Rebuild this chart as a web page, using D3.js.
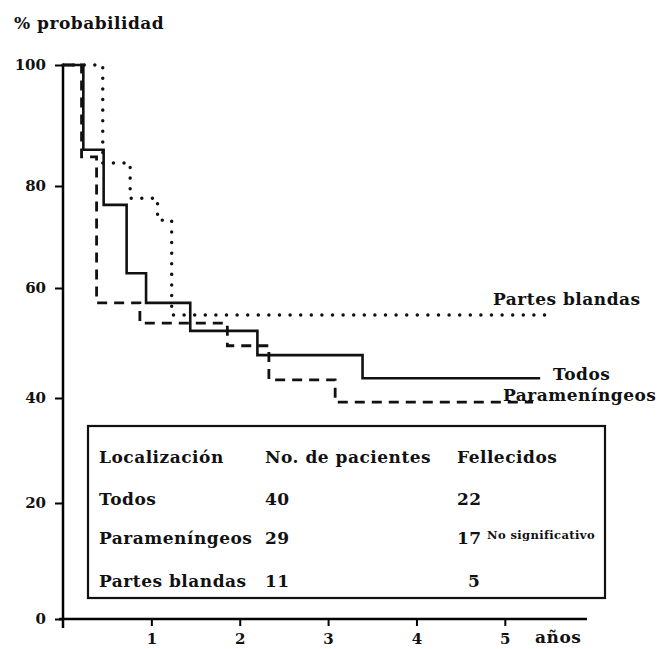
<!DOCTYPE html>
<html>
<head>
<meta charset="utf-8">
<script src="https://cdn.jsdelivr.net/npm/d3@7"></script>
<style>
  body { margin: 0; background: #fff; }
  svg text { font-family: "DejaVu Serif", serif; font-weight: bold; fill: #111; }
  .lbl { font-size: 17px; letter-spacing: 0.5px; }
</style>
</head>
<body>
<svg id="chart"></svg>
<script>
// Datos
const todosTiempo = [0, 0.23, 0.46, 0.72, 0.94, 1.44, 2.2, 3.39, 5.4];
const todosProb = [100, 86, 76.3, 62.9, 57.3, 52.2, 47.8, 43.6, 43.6];

const paraTiempo = [0, 0.21, 0.38, 0.87, 1.86, 2.33, 3.08, 5.32];
const paraProb = [100, 84.8, 57.3, 53.6, 49.5, 43.3, 39.2, 39.2];

const partesTiempo = [0, 0.45, 0.76, 1.07, 1.23, 5.51];
const partesProb = [100, 83.8, 77.6, 73.3, 55.1, 55.1];

const yTicks = [0, 20, 40, 60, 80, 100];
const xTicks = [1, 2, 3, 4, 5];

const localizaciones = ["Todos", "Parameníngeos", "Partes blandas"];
const pacientes = [40, 29, 11];
const fallecidos = [22, 17, 5];

const width = 660;
const height = 649;

const svg = d3.select("#chart")
    .attr("width", width)
    .attr("height", height);

// Escalas (el eje Y del original no es del todo regular)
const x = d3.scaleLinear()
    .domain([0, 5.93])
    .range([63, 587]);

const y = d3.scaleLinear()
    .domain(yTicks)
    .range([619, 503, 398, 288, 186, 65]);

// Eje Y
svg.append("g")
    .attr("transform", `translate(${x(0)},0)`)
    .call(d3.axisLeft(y).tickValues(yTicks).tickSize(8).tickSizeOuter(0).tickPadding(9))
    .call(g => g.select(".domain").attr("stroke-width", 2.5).attr("d", `M0,${y(100)}V${y(0) + 9}`))
    .call(g => g.selectAll(".tick line").attr("stroke-width", 2))
    .call(g => g.selectAll("text").style("font-size", "15px").attr("fill", "#111"));

// Eje X
svg.append("g")
    .attr("transform", `translate(0,${y(0)})`)
    .call(d3.axisBottom(x).tickValues(xTicks).tickFormat(d3.format("d")).tickSize(7).tickSizeOuter(0).tickPadding(7))
    .call(g => g.select(".domain").attr("stroke-width", 2.5).attr("d", `M${x(0) - 4},0H${x.range()[1]}`))
    .call(g => g.selectAll(".tick line").attr("stroke-width", 2))
    .call(g => g.selectAll("text").style("font-size", "15px").attr("fill", "#111"));

svg.append("text")
    .attr("class", "lbl")
    .attr("x", 535)
    .attr("y", 643)
    .text("años");

svg.append("text")
    .attr("class", "lbl")
    .attr("x", 14)
    .attr("y", 29)
    .text("% probabilidad");

// Curvas
const line = d3.line()
    .x(d => x(d[0]))
    .y(d => y(d[1]))
    .curve(d3.curveStepAfter);

const curvas = [
    { t: partesTiempo, p: partesProb, dash: "0.1,10.5", cap: "round", w: 3.4 },
    { t: paraTiempo, p: paraProb, dash: "10,7", cap: "butt", w: 2.8 },
    { t: todosTiempo, p: todosProb, dash: null, cap: "butt", w: 2.6 }
];

curvas.forEach(c => {
    svg.append("path")
        .datum(d3.zip(c.t, c.p))
        .attr("d", line)
        .attr("fill", "none")
        .attr("stroke", "#111")
        .attr("stroke-width", c.w)
        .attr("stroke-linecap", c.cap)
        .attr("stroke-dasharray", c.dash);
});

// Etiquetas de las curvas
svg.append("text").attr("class", "lbl").attr("x", 493).attr("y", 305).text("Partes blandas");
svg.append("text").attr("class", "lbl").attr("x", 553).attr("y", 380).text("Todos");
svg.append("text").attr("class", "lbl").attr("x", 503).attr("y", 401).text("Parameníngeos");

// Tabla
svg.append("rect")
    .attr("x", 88)
    .attr("y", 426)
    .attr("width", 517)
    .attr("height", 172)
    .attr("fill", "none")
    .attr("stroke", "#111")
    .attr("stroke-width", 2.2);

const tabla = svg.append("g");
tabla.append("text").attr("class", "lbl").attr("x", 99).attr("y", 463).text("Localización");
tabla.append("text").attr("class", "lbl").attr("x", 265).attr("y", 463).text("No. de pacientes");
tabla.append("text").attr("class", "lbl").attr("x", 457).attr("y", 463).text("Fellecidos");

const filaY = [505, 544, 587];
localizaciones.forEach((d, i) => {
    tabla.append("text").attr("class", "lbl").attr("x", 99).attr("y", filaY[i]).text(d);
    tabla.append("text").attr("class", "lbl").attr("x", 265).attr("y", filaY[i]).text(pacientes[i]);
    tabla.append("text").attr("class", "lbl").attr("x", fallecidos[i] < 10 ? 468 : 457).attr("y", filaY[i]).text(fallecidos[i]);
});

tabla.append("text")
    .attr("x", 487)
    .attr("y", 539)
    .style("font-size", "11.5px")
    .style("letter-spacing", "0.4px")
    .text("No significativo");
</script>
</body>
</html>
